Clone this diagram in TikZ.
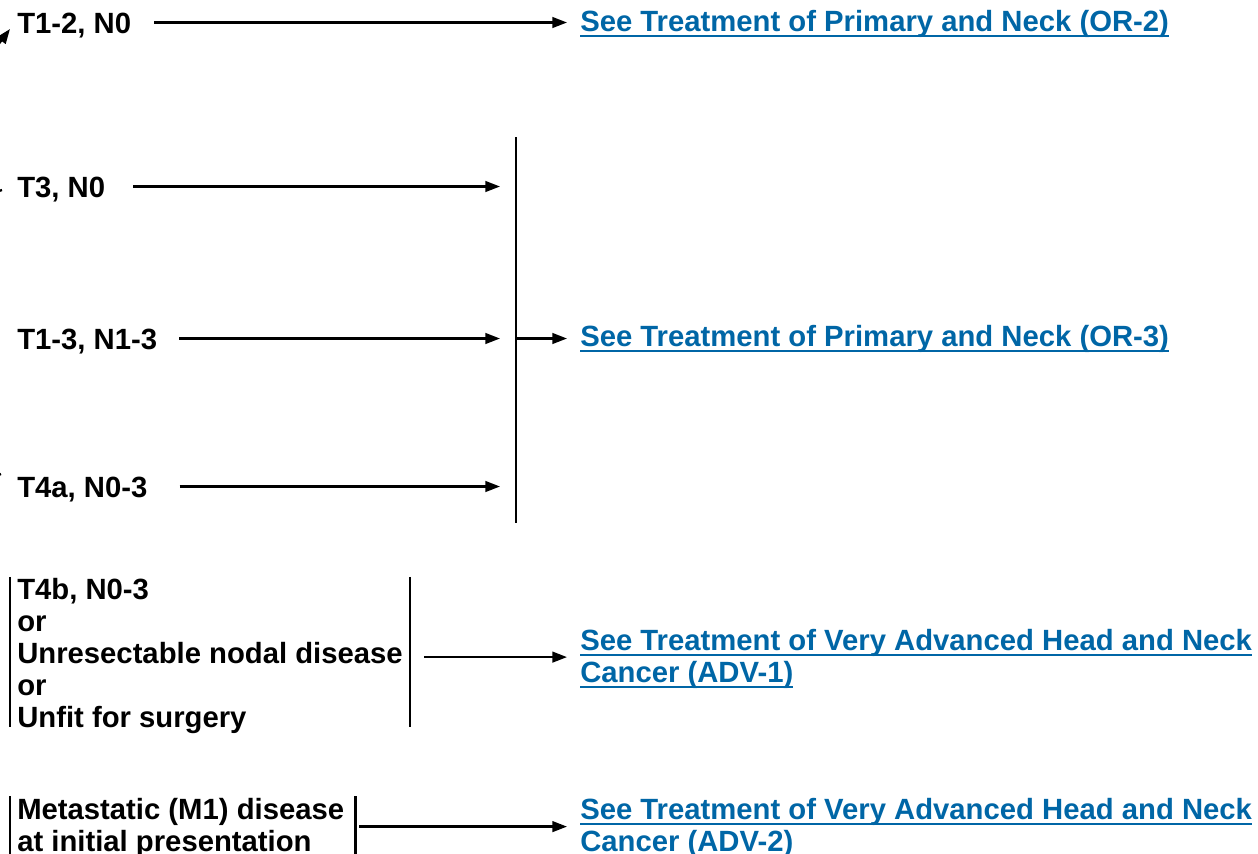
\documentclass[tikz,border=0pt]{standalone}
\usepackage{fontspec}
\setmainfont{Liberation Sans}
\usetikzlibrary{arrows.meta,calc}
\definecolor{linkblue}{RGB}{0,102,166}
% underlined link text
\newcommand\ulink[1]{\setbox0\hbox{#1}\rlap{\rule[-4.5pt]{\wd0}{1.5pt}}\box0}

\begin{document}
\begin{tikzpicture}[x=0.75pt,y=-0.75pt,
  txt/.style={font=\bfseries\fontsize{21.95pt}{24pt}\selectfont, inner sep=0pt, anchor=base west},
  oneline/.style={text height=15.75pt, text depth=0pt},
  lbl/.style={txt},
  lnk/.style={txt,text=linkblue},
  arr/.style={line width=1.7pt,-{Triangle[length=11pt,width=8pt]}},
  barline/.style={line width=1.7pt}]
\useasboundingbox (0,0) rectangle (1258,854);
\clip (0,0) rectangle (1258,854);

% stage labels
\node[lbl,oneline] (a1) at (17,33) {T1-2, N0};
\node[lbl,oneline] (a2) at (17,197) {T3, N0};
\node[lbl,oneline] (a3) at (17,349) {T1-3, N1-3};
\node[lbl,oneline] (a4) at (17,497) {T4a, N0-3};
\node[lbl] (a5) at (17,599.5) {\begin{tabular}[t]{@{}l@{}}T4b, N0-3\\or\\Unresectable nodal disease\\or\\Unfit for surgery\end{tabular}};
\node[lbl] (a6) at (17,819) {\begin{tabular}[t]{@{}l@{}}Metastatic (M1) disease\\at initial presentation\end{tabular}};

% links to treatment pages
\node[lnk,oneline] (l1) at (580,31) {\ulink{See Treatment of Primary and Neck (OR-2)}};
\node[lnk,oneline] (l3) at (580,346) {\ulink{See Treatment of Primary and Neck (OR-3)}};
\node[lnk] (l5) at (580,650) {\begin{tabular}[t]{@{}l@{}}\ulink{See Treatment of Very Advanced Head and Neck}\\\ulink{Cancer (ADV-1)}\end{tabular}};
\node[lnk] (l6) at (580,819) {\begin{tabular}[t]{@{}l@{}}\ulink{See Treatment of Very Advanced Head and Neck}\\\ulink{Cancer (ADV-2)}\end{tabular}};

% side bars of the grouped labels
\draw[barline] ($(a5.north west)+(-7,0)$) -- ($(a5.south west)+(-7,-10)$);
\draw[barline] ($(a5.north east)+(7,0)$) -- ($(a5.south east)+(7,-10)$);
\draw[barline] ($(a6.north west)+(-7,0)$) -- ($(a6.south west)+(-7,0)$);
\draw[barline] ($(a6.north east)+(11,0)$) -- ($(a6.south east)+(11,0)$);

% joining line for T3 / T1-3 / T4a
\coordinate (jt) at (516,137);
\coordinate (jb) at (516,523);
\draw[barline] (jt) -- (jb);

% connectors
\draw[arr] ($(a1.east)+(23,0)$) -- ($(a1.east -| l1.west)+(-13,0)$);
\draw[arr] ($(a2.east)+(28,0)$) -- ($(a2.east -| jt)+(-16,0)$);
\draw[arr] ($(a3.east)+(22,0)$) -- ($(a3.east -| jt)+(-16,0)$);
\draw[arr] ($(a4.east)+(32,0)$) -- ($(a4.east -| jt)+(-16,0)$);
\draw[arr] (a3.east -| jt) -- ($(a3.east -| l3.west)+(-13,0)$);
\draw[arr] ($(a5.east)+(21,0)$) -- ($(a5.east -| l5.west)+(-13,0)$);
\draw[arr] ($(a6.east)+(15,-2)$) -- ($(a6.east -| l6.west)+(-13,-2)$);

% connectors entering from the left edge
\coordinate (f1) at (-18,66);
\coordinate (f1t) at (10,29);
\draw[arr] (f1) -- (f1t);
\coordinate (f2) at (-20,197);
\coordinate (f2t) at (2,190);
\draw[barline] (f2) -- (f2t);
\coordinate (f3) at (-20,482);
\coordinate (f3t) at (1,474);
\draw[barline] (f3) -- (f3t);
\end{tikzpicture}
\end{document}
